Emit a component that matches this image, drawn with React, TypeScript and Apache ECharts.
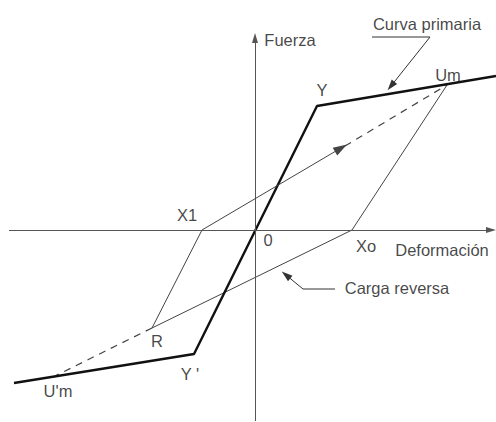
import React, { useEffect, useRef } from "react";
import * as echarts from "echarts";

type Pt = [number, number];

// Envolvente (curva primaria): extremo negativo, Y', Y, extremo positivo
const curvaPrimaria: Pt[] = [[-24.1, -15.3], [-6.1, -12.4], [6.2, 12.4], [24.1, 15.4]];
// Descarga desde Um hasta Xo, carga reversa hasta R y recarga hasta X1
const cicloHisteretico: Pt[] = [[19.2, 14.5], [9.7, 0], [-10.3, -9.8], [-5.3, 0]];
// Recarga desde X1 hacia Um: tramo continuo con flecha y tramo a trazos
const recargaFlecha: Pt[] = [[-5.3, 0], [8.6, 8.2]];
const recargaTrazos: Pt[] = [[9.0, 8.4], [19.2, 14.5]];
// Prolongación a trazos desde R hasta U'm
const prolongacionNegativa: Pt[] = [[-10.3, -9.8], [-20.0, -14.6]];
// Ejes
const ejeX: Pt[] = [[-24.6, 0], [23.6, 0]];
const ejeY: Pt[] = [[0, -19.1], [0, 19.2]];
// Líneas guía de las anotaciones
const guiaCurvaPrimaria: Pt[] = [[11.7, 19.3], [17.5, 19.3], [13.6, 14.4]];
const guiaCargaReversa: Pt[] = [[8.0, -5.9], [4.8, -5.9], [3.1, -4.5]];

// Rótulos de los puntos notables
const nombresPuntos = ["Y", "Um", "X1", "0", "Xo", "R", "Y '", "U'm"];
const posicionesPuntos: Pt[] = [
  [6.7, 14.0], [19.3, 15.5], [-6.8, 1.5], [1.3, -1.0],
  [11.1, -1.6], [-9.8, -11.1], [-6.5, -14.4], [-19.7, -16.1],
];
// Títulos de ejes y anotaciones
const nombresRotulos = ["Fuerza", "Deformación", "Curva primaria", "Carga reversa"];
const posicionesRotulos: Pt[] = [[3.5, 19.0], [18.7, -2.0], [17.2, 20.6], [14.2, -5.8]];

const FONT = "'Liberation Sans', Arial, sans-serif";
const TEXT = "#151515";
const THIN = "#444";

export default function App() {
  const ref = useRef<HTMLDivElement>(null);

  useEffect(() => {
    if (!ref.current) return;
    const chart = echarts.init(ref.current, null, { renderer: "svg" });

    const arrowLine = (a: Pt, b: Pt, color: string, size: number[]) => ({
      type: "line",
      data: [],
      silent: true,
      markLine: {
        silent: true,
        animation: false,
        symbol: ["none", "triangle"],
        symbolSize: size,
        label: { show: false },
        lineStyle: { color, width: 1, type: "solid" },
        emphasis: { disabled: true },
        data: [[{ coord: a }, { coord: b }]],
      },
    });

    const plainLine = (pts: Pt[], color: string, width: number, dashed = false) => ({
      type: "line",
      data: pts,
      symbol: "none",
      silent: true,
      lineStyle: { color, width, type: dashed ? [7, 6] : "solid" },
    });

    const labelData = (names: string[], pos: Pt[]) =>
      names.map((name, i) => ({ name, value: pos[i] }));

    chart.setOption({
      animation: false,
      backgroundColor: "#fff",
      grid: { left: 0, right: 0, top: 0, bottom: 0, containLabel: false },
      xAxis: { type: "value", min: -25.5, max: 24.1, show: false },
      yAxis: { type: "value", min: -19.2, max: 23.0, show: false },
      series: [
        arrowLine(ejeX[0], ejeX[1], "#555", [6, 10]),
        arrowLine(ejeY[0], ejeY[1], "#555", [6, 10]),
        plainLine(cicloHisteretico, THIN, 1),
        arrowLine(recargaFlecha[0], recargaFlecha[1], THIN, [9, 14]),
        plainLine(recargaTrazos, THIN, 1.2, true),
        plainLine(prolongacionNegativa, THIN, 1.2, true),
        plainLine(curvaPrimaria, "#111", 2.4),
        plainLine(guiaCurvaPrimaria.slice(0, 2), "#333", 1),
        arrowLine(guiaCurvaPrimaria[1], guiaCurvaPrimaria[2], "#333", [7, 11]),
        plainLine(guiaCargaReversa.slice(0, 2), "#333", 1),
        arrowLine(guiaCargaReversa[1], guiaCargaReversa[2], "#333", [7, 11]),
        {
          type: "scatter",
          silent: true,
          symbolSize: 0,
          data: [
            ...labelData(nombresPuntos, posicionesPuntos),
            ...labelData(nombresRotulos, posicionesRotulos),
          ],
          label: {
            show: true,
            position: "inside",
            formatter: "{b}",
            color: TEXT,
            fontSize: 16.5,
            fontFamily: FONT,
          },
        },
      ],
    });

    return () => chart.dispose();
  }, []);

  return (
    <div
      ref={ref}
      style={{ position: "absolute", left: 0, top: 0, width: 496, height: 422, background: "#fff" }}
    />
  );
}
